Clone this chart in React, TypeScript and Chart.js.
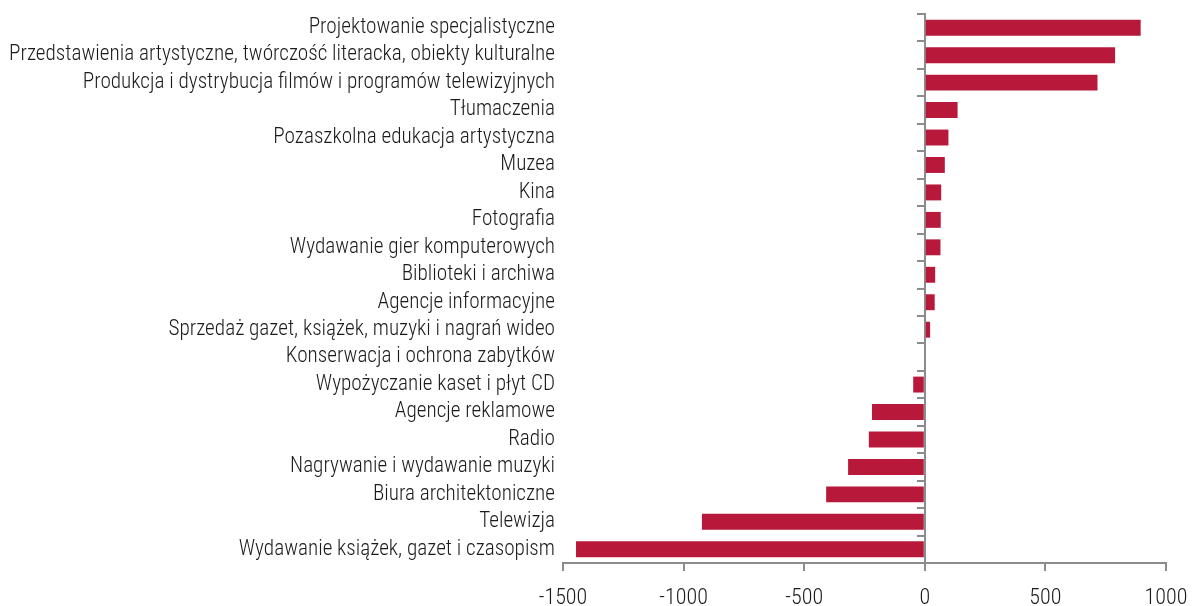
import React, { useEffect, useRef } from 'react';
import { Chart, registerables } from 'chart.js';

Chart.register(...registerables);

const categories: string[] = [
  'Projektowanie specjalistyczne',
  'Przedstawienia artystyczne, twórczość literacka, obiekty kulturalne',
  'Produkcja i dystrybucja filmów i programów telewizyjnych',
  'Tłumaczenia',
  'Pozaszkolna edukacja artystyczna',
  'Muzea',
  'Kina',
  'Fotografia',
  'Wydawanie gier komputerowych',
  'Biblioteki i archiwa',
  'Agencje informacyjne',
  'Sprzedaż gazet, książek, muzyki i nagrań wideo',
  'Konserwacja i ochrona zabytków',
  'Wypożyczanie kaset i płyt CD',
  'Agencje reklamowe',
  'Radio',
  'Nagrywanie i wydawanie muzyki',
  'Biura architektoniczne',
  'Telewizja',
  'Wydawanie książek, gazet i czasopism',
];

const values: number[] = [
  895, 789, 716, 136, 98, 83, 68, 66, 65, 43, 41, 22, 0, -48, -219, -232, -318, -409, -924, -1446,
];

const xMin = -1500;
const xMax = 1000;
const xStep = 500;

const FONT = "'Roboto Condensed', 'Liberation Sans Narrow', 'DejaVu Sans Condensed', Roboto, sans-serif";
const AXIS_GRAY = '#8c8c8c';
const BAR_RED = '#b8193a';
const TEXT = '#1a1a1a';

export default function App() {
  const ref = useRef<HTMLCanvasElement | null>(null);

  useEffect(() => {
    if (!ref.current) return;
    const chart = new Chart(ref.current, {
      type: 'bar',
      data: {
        labels: categories,
        datasets: [
          {
            data: values,
            backgroundColor: BAR_RED,
            borderWidth: 0,
            categoryPercentage: 1,
            barPercentage: 0.58,
          },
        ],
      },
      options: {
        indexAxis: 'y',
        responsive: false,
        animation: false,
        layout: { padding: { top: 14, right: 26, left: 0, bottom: 0 } },
        plugins: { legend: { display: false }, tooltip: { enabled: false } },
        scales: {
          x: {
            type: 'linear',
            min: xMin,
            max: xMax,
            ticks: {
              stepSize: xStep,
              color: TEXT,
              padding: 14,
              font: { family: FONT, size: 22, weight: 300 as any },
              callback: (v: any) => String(v),
            },
            grid: {
              drawOnChartArea: false,
              drawTicks: true,
              tickLength: 8,
              color: AXIS_GRAY,
              lineWidth: 2,
            },
            border: { display: true, color: AXIS_GRAY, width: 2 },
            afterFit: (scale: any) => {
              scale.height = 43;
              scale.paddingLeft = 0;
              scale.paddingRight = 0;
            },
          },
          y: {
            type: 'category',
            position: 'left',
            offset: true,
            grid: { display: false, drawTicks: false },
            border: { display: false },
            ticks: {
              color: TEXT,
              padding: 8,
              autoSkip: false,
              font: { family: FONT, size: 21.2, weight: 300 as any },
            },
            afterFit: (scale: any) => {
              scale.width = 563;
              scale.paddingTop = 0;
              scale.paddingBottom = 0;
            },
          },
          y2: {
            type: 'category',
            axis: 'y',
            position: { x: 0 } as any,
            offset: true,
            labels: categories,
            grid: {
              offset: true,
              drawOnChartArea: false,
              drawTicks: true,
              tickLength: 7,
              color: AXIS_GRAY,
              lineWidth: 2,
            },
            border: { display: true, color: AXIS_GRAY, width: 2 },
            ticks: { display: false, autoSkip: false },
            afterFit: (scale: any) => {
              scale.paddingTop = 0;
              scale.paddingBottom = 0;
            },
          } as any,
        },
      },
    });
    return () => chart.destroy();
  }, []);

  return (
    <div style={{ position: 'absolute', left: 0, top: 0, width: 1192, height: 606 }}>
      <canvas ref={ref} width={1192} height={606} style={{ display: 'block' }} />
    </div>
  );
}
